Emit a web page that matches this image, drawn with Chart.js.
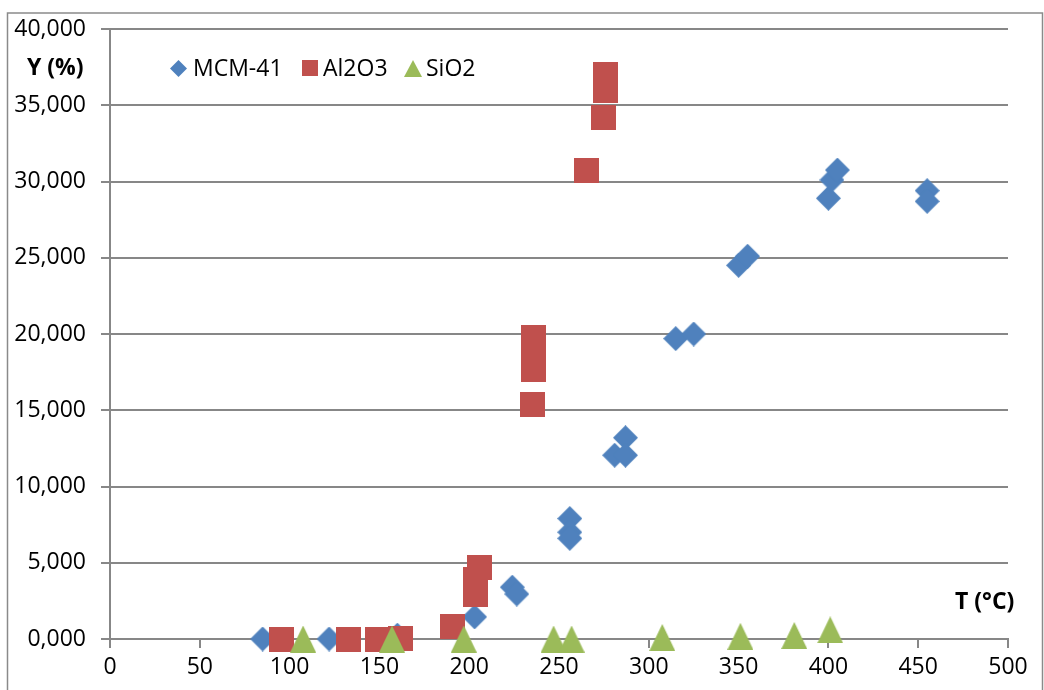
<!DOCTYPE html>
<html>
<head>
<meta charset="utf-8">
<script src="https://cdn.jsdelivr.net/npm/chart.js@4/dist/chart.umd.min.js"></script>
<style>
  html, body { margin: 0; padding: 0; background: #fff; }
  #wrap { position: relative; width: 1044px; height: 690px; }
</style>
</head>
<body>
<div id="wrap"><canvas id="myChart" width="1044" height="690"></canvas></div>
<script>
// ------------------- DATA -------------------
const xTicks = [0, 50, 100, 150, 200, 250, 300, 350, 400, 450, 500];
const yTicks = [0, 5, 10, 15, 20, 25, 30, 35, 40];

const seriesNames = ["MCM-41", "Al2O3", "SiO2"];

const mcmX = [85, 122, 160, 203, 224, 226.5, 256, 256, 256, 281, 287, 287, 315, 325, 350, 355, 400, 402, 405, 455, 455];
const mcmY = [0, 0, 0.25, 1.45, 3.4, 2.95, 7.9, 7.0, 6.6, 12.05, 13.2, 12.05, 19.7, 20.0, 24.5, 25.1, 28.9, 30.1, 30.75, 29.4, 28.7];

const alX = [95.5, 133, 149, 161.5, 190.5, 203.5, 203.5, 205.5, 235, 236, 236, 236, 265.5, 275, 276, 276, 276];
const alY = [0, 0, 0, 0.05, 0.85, 2.95, 3.9, 4.7, 15.4, 17.7, 18.8, 19.8, 30.75, 34.2, 36.0, 36.4, 37.0];

const siX = [107.5, 157, 197, 247, 257, 307.5, 351, 381, 401];
const siY = [0, 0, 0, 0, 0, 0.1, 0.18, 0.23, 0.6];

// ------------------- STYLE -------------------
const blue = "#4F81BD";
const red = "#C0504D";
const green = "#9BBB59";
const gray = "#878787";
const font = "'Open Sans', 'Liberation Sans', sans-serif";

// marker images so the shapes have Excel-like proportions
function marker(kind, w, h, color) {
  const c = document.createElement("canvas");
  c.width = w;
  c.height = h;
  const g = c.getContext("2d");
  g.fillStyle = color;
  g.beginPath();
  if (kind === "diamond") {
    g.moveTo(w / 2, 0); g.lineTo(w, h / 2); g.lineTo(w / 2, h); g.lineTo(0, h / 2);
  } else if (kind === "triangle") {
    g.moveTo(w / 2, 0); g.lineTo(w, h); g.lineTo(0, h);
  } else {
    g.rect(0, 0, w, h);
  }
  g.closePath();
  g.fill();
  return c;
}

const toPoints = (xs, ys) => xs.map((x, i) => ({ x: x, y: ys[i] }));

// frame, legend and axis titles
const extras = {
  id: "extras",
  beforeDraw(chart) {
    const ctx = chart.ctx;
    ctx.save();
    ctx.fillStyle = "#fff";
    ctx.fillRect(0, 0, chart.width, chart.height);
    ctx.strokeStyle = "#8a8a8a";
    ctx.lineWidth = 1.5;
    ctx.strokeRect(7.5, 13, 1035, 700);
    ctx.restore();
  },
  afterDraw(chart) {
    const ctx = chart.ctx;
    ctx.save();
    ctx.fillStyle = "#000";
    ctx.textBaseline = "alphabetic";
    ctx.font = "bold 23px " + font;
    ctx.fillText("Y (%)", 27, 75);
    ctx.fillText("T (°C)", 955, 609);

    ctx.font = "23px " + font;
    ctx.drawImage(marker("diamond", 17, 17, blue), 170, 60);
    ctx.fillText(seriesNames[0], 193, 76);
    ctx.drawImage(marker("square", 16, 16, red), 302, 60);
    ctx.fillText(seriesNames[1], 323, 76);
    ctx.drawImage(marker("triangle", 18, 17, green), 404, 60);
    ctx.fillText(seriesNames[2], 426, 76);
    ctx.restore();
  }
};

const config = {
  type: "scatter",
  data: {
    datasets: [
      {
        label: seriesNames[0],
        data: toPoints(mcmX, mcmY),
        pointStyle: marker("diamond", 25, 25, blue),
        pointRadius: 13,
        backgroundColor: blue,
        borderColor: blue,
        order: 3,
        clip: false
      },
      {
        label: seriesNames[1],
        data: toPoints(alX, alY),
        pointStyle: marker("square", 25, 25, red),
        pointRadius: 13,
        backgroundColor: red,
        borderColor: red,
        order: 2,
        clip: false
      },
      {
        label: seriesNames[2],
        data: toPoints(siX, siY),
        pointStyle: marker("triangle", 26, 27, green),
        pointRadius: 13,
        backgroundColor: green,
        borderColor: green,
        order: 1,
        clip: false
      }
    ]
  },
  options: {
    responsive: false,
    animation: false,
    events: [],
    layout: { padding: { left: 0, top: 29, right: 36, bottom: 0 } },
    plugins: {
      legend: { display: false },
      tooltip: { enabled: false }
    },
    scales: {
      x: {
        type: "linear",
        min: xTicks[0],
        max: xTicks[xTicks.length - 1],
        afterBuildTicks: (s) => { s.ticks = xTicks.map(v => ({ value: v })); },
        afterFit: (s) => { s.height = 51; s.paddingLeft = 0; s.paddingRight = 0; },
        grid: { drawOnChartArea: false, drawTicks: true, tickLength: 9, color: gray, lineWidth: 2 },
        border: { color: gray, width: 2 },
        ticks: {
          color: "#000",
          padding: 6,
          maxRotation: 0,
          font: { family: font, size: 23 },
          callback: (v) => String(v)
        }
      },
      y: {
        type: "linear",
        min: yTicks[0],
        max: yTicks[yTicks.length - 1],
        afterBuildTicks: (s) => { s.ticks = yTicks.map(v => ({ value: v })); },
        afterFit: (s) => { s.width = 110; s.paddingTop = 0; s.paddingBottom = 0; },
        grid: { drawOnChartArea: true, drawTicks: true, tickLength: 9, color: gray, lineWidth: 2 },
        border: { color: gray, width: 2 },
        ticks: {
          color: "#000",
          padding: 15,
          font: { family: font, size: 23 },
          callback: (v) => v.toFixed(3).replace(".", ",")
        }
      }
    }
  },
  plugins: [extras]
};

const myChart = new Chart(document.getElementById("myChart"), config);
</script>
</body>
</html>
